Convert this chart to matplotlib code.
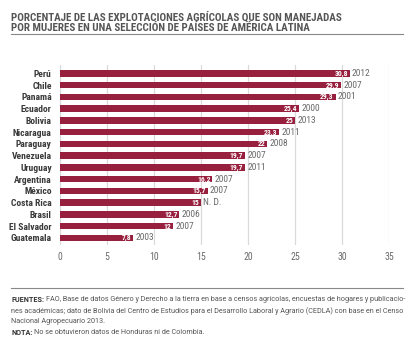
import numpy as np
import matplotlib.pyplot as plt
from matplotlib.lines import Line2D

plt.rcParams['font.family'] = ['Roboto Condensed', 'Roboto', 'DejaVu Sans']

countries = ['Perú', 'Chile', 'Panamá', 'Ecuador', 'Bolivia', 'Nicaragua',
             'Paraguay', 'Venezuela', 'Uruguay', 'Argentina', 'México',
             'Costa Rica', 'Brasil', 'El Salvador', 'Guatemala']
values = [30.8, 29.9, 29.3, 25.4, 25, 23.3, 22, 19.7, 19.7, 16.2, 15.7,
          15, 12.7, 12, 7.8]
value_labels = ['30,8', '29,9', '29,3', '25,4', '25', '23,3', '22', '19,7',
                '19,7', '16,2', '15,7', '15', '12,7', '12', '7,8']
years = ['2012', '2007', '2001', '2000', '2013', '2011', '2008', '2007',
         '2011', '2007', '2007', 'N. D.', '2006', '2007', '2003']
xticks = [0, 5, 10, 15, 20, 25, 30, 35]

BAR = '#98203f'
GREY = '#555555'
FOOT_FONT = ['Roboto', 'DejaVu Sans']

fig = plt.figure(figsize=(4.14, 3.52), dpi=100)
ax = fig.add_axes([0.145, 0.304, 0.795, 0.511])

y = np.arange(len(countries))
ax.barh(y, values, height=0.56, color=BAR, zorder=3)
for yi, v, vl, yr in zip(y, values, value_labels, years):
    ax.text(v - 0.2, yi, vl, ha='right', va='center', color='white',
            fontsize=5.5, fontweight='bold', zorder=4)
    ax.text(v + 0.25, yi, yr, ha='left', va='center', color='#6a6a6a',
            fontsize=6.8, zorder=4)

ax.set_xlim(0, 35)
ax.set_ylim(len(countries) - 0.4, -0.7)
ax.set_xticks(xticks)
ax.set_xticklabels([str(t) for t in xticks])
ax.set_yticks(y)
ax.set_yticklabels(countries)
for t in ax.get_yticklabels():
    t.set_fontweight('bold')
ax.tick_params(axis='y', length=0, pad=6, labelsize=6.8, colors='#3a3a3a')
ax.tick_params(axis='x', length=0, pad=5, labelsize=7, colors='#6a6a6a')
ax.grid(axis='x', color='#dadada', lw=0.9, zorder=0)
ax.set_axisbelow(True)
for sp in ax.spines.values():
    sp.set_visible(False)

fig.text(0.027, 0.968, 'PORCENTAJE DE LAS EXPLOTACIONES AGRÍCOLAS QUE SON MANEJADAS\n'
         'POR MUJERES EN UNA SELECCIÓN DE PAÍSES DE AMÉRICA LATINA',
         ha='left', va='top', fontsize=7.9, fontweight='bold', color=GREY,
         linespacing=1.1)
fig.add_artist(Line2D([0.027, 0.973], [0.902, 0.902], color='#888888', lw=0.8,
                      transform=fig.transFigure))
fig.add_artist(Line2D([0.027, 0.973], [0.182, 0.182], color='#888888', lw=0.8,
                      transform=fig.transFigure))

fs_foot = 5.2
lbl = fig.text(0.027, 0.158, 'FUENTES:', ha='left', va='top', fontsize=fs_foot,
               fontweight='bold', color='#333333', family=FOOT_FONT)
fig.canvas.draw()
x1 = fig.transFigure.inverted().transform(
    lbl.get_window_extent().get_points())[1, 0]
fig.text(x1 + 0.004, 0.158, 'FAO, Base de datos Género y Derecho a la tierra en base a '
         'censos agrícolas, encuestas de hogares y publicacio-',
         ha='left', va='top', fontsize=fs_foot, color=GREY, family=FOOT_FONT)
fig.text(0.027, 0.128, 'nes académicas; dato de Bolivia del Centro de Estudios para '
         'el Desarrollo Laboral y Agrario (CEDLA) con base en el Censo',
         ha='left', va='top', fontsize=fs_foot, color=GREY, family=FOOT_FONT)
fig.text(0.027, 0.098, 'Nacional Agropecuario 2013.',
         ha='left', va='top', fontsize=fs_foot, color=GREY, family=FOOT_FONT)
nl = fig.text(0.027, 0.064, 'NOTA:', ha='left', va='top', fontsize=fs_foot,
              fontweight='bold', color='#333333', family=FOOT_FONT)
fig.canvas.draw()
x2 = fig.transFigure.inverted().transform(
    nl.get_window_extent().get_points())[1, 0]
fig.text(x2 + 0.004, 0.064, 'No se obtuvieron datos de Honduras ni de Colombia.',
         ha='left', va='top', fontsize=fs_foot, color=GREY, family=FOOT_FONT)

fig.savefig('out.png', dpi=100)
